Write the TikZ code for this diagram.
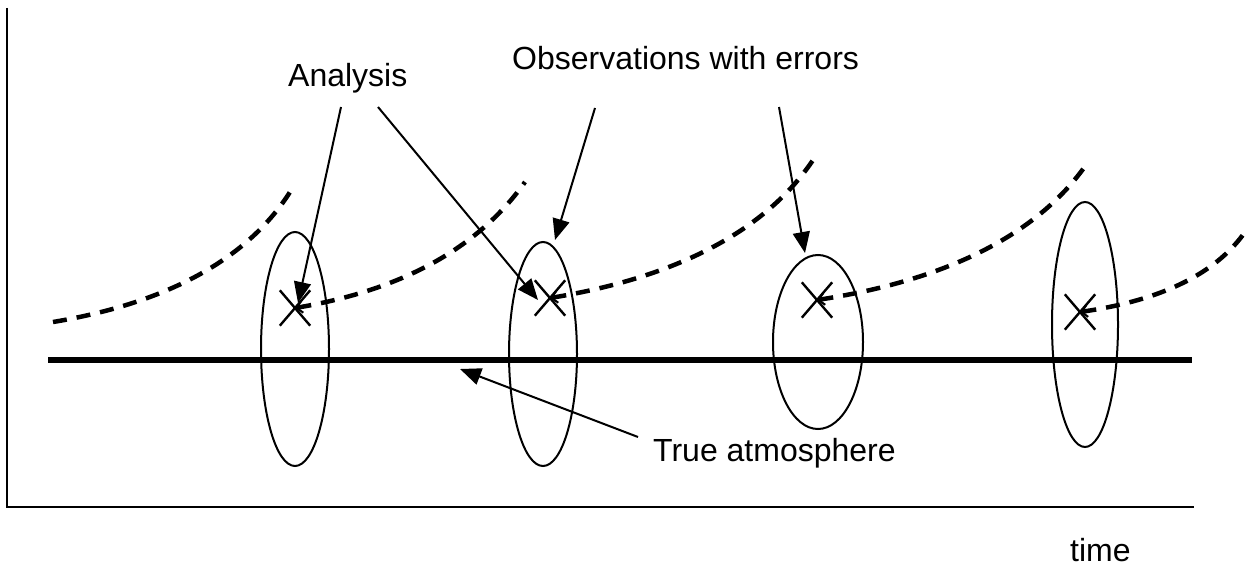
\documentclass[tikz,border=0pt]{standalone}
\usepackage{fontspec}
\setmainfont{Liberation Sans}
\usetikzlibrary{shapes.geometric,shapes.misc,arrows.meta}
\begin{document}
\begin{tikzpicture}[x=1pt,y=-1pt,
  lbl/.style={font=\fontsize{32}{38}\selectfont, inner sep=0pt, anchor=base west},
  obsell/.style={ellipse, draw, line width=2pt, inner sep=0pt},
  xmark/.style={cross out, draw, line width=2.4pt, minimum width=28pt, minimum height=33pt, inner sep=0pt},
  fc/.style={dash pattern=on 14pt off 10pt, line width=4.5pt, {Straight Barb[length=6pt,width=12pt,line width=2pt]}-},
  ptr/.style={line width=2pt, -{Triangle[length=21pt,width=17pt]}},
]
\useasboundingbox (0,0) rectangle (1248,567);
% axes
\draw[line width=2.4pt] (7,8) -- (7,507) -- (1194,507);
% true atmosphere
\draw[line width=6.5pt] (48,360) -- (1192,360);
% ellipses
\node[obsell, minimum width=68pt, minimum height=234pt] (e1) at (295,349) {};
\node[obsell, minimum width=68pt, minimum height=224pt] (e2) at (543,354) {};
\node[obsell, minimum width=90pt, minimum height=174pt] (e3) at (818,342) {};
\node[obsell, minimum width=66pt, minimum height=245pt] (e4) at (1085,324.5) {};
% analysis crosses
\node[xmark] (x1) at (295,308) {};
\node[xmark] (x2) at (550,298) {};
\node[xmark] (x3) at (817,300) {};
\node[xmark] (x4) at (1080,312) {};
% forecast curves
\coordinate (f0s) at (53,322);
\coordinate (f0e) at (290,192);
\coordinate (f1e) at (525,182);
\coordinate (f2e) at (813,160);
\coordinate (f3e) at (1088,162);
\coordinate (f4e) at (1245,232);
\draw[dash pattern=on 14pt off 10pt, line width=4.5pt] (f0s) .. controls (179,301) and (252,252) .. (f0e);
\draw[fc] (x1.center) .. controls (414,288) and (484,240) .. (f1e);
\draw[fc] (x2.center) .. controls (690,275) and (771,223) .. (f2e);
\draw[fc] (x3.center) .. controls (960,278) and (1044,227) .. (f3e);
\draw[fc] (x4.center) .. controls (1170,299) and (1219,269) .. (f4e);
% labels
\node[lbl] (ana) at (288,87) {Analysis};
\node[lbl] (obs) at (512,70) {Observations with errors};
\node[lbl] (tru) at (653,461) {True atmosphere};
\node[lbl] (tim) at (1070,561) {time};
% pointers
\coordinate (a1s) at (341,107);
\coordinate (a1t) at (298,303);
\coordinate (a2s) at (378,107);
\coordinate (a2t) at (538,300);
\coordinate (o1s) at (595,108);
\coordinate (o1t) at (555,240);
\coordinate (o2s) at (779,107);
\coordinate (o2t) at (805,253);
\coordinate (t1s) at (638,437);
\coordinate (t1t) at (460,369);
\draw[ptr] (a1s) -- (a1t);
\draw[ptr] (a2s) -- (a2t);
\draw[ptr] (o1s) -- (o1t);
\draw[ptr] (o2s) -- (o2t);
\draw[ptr] (t1s) -- (t1t);
\end{tikzpicture}
\end{document}
